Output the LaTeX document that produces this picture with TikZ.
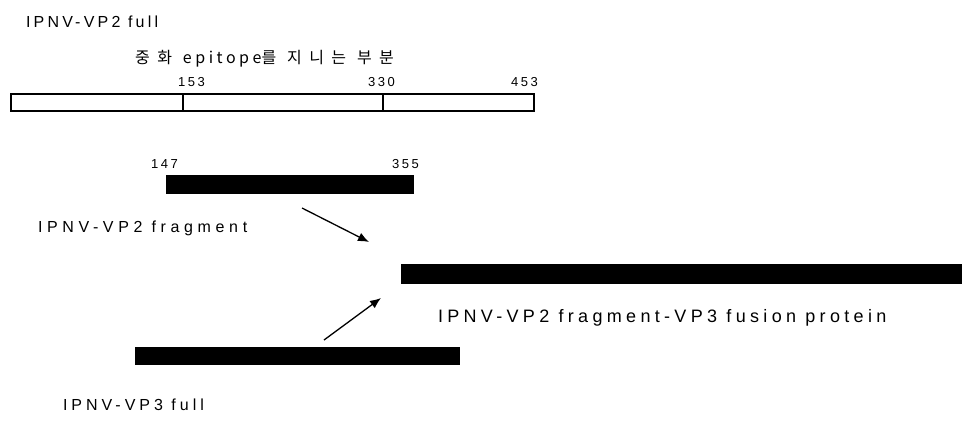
\documentclass[tikz,border=0pt]{standalone}
\usepackage{fontspec}
\setmainfont{Liberation Sans}
\newfontfamily\lblfont[LetterSpace=20]{Liberation Sans}
\newfontfamily\numfont[LetterSpace=20]{Liberation Sans}
\newfontfamily\krfont[LetterSpace=46]{Noto Sans CJK KR}
\newfontfamily\krlatin[LetterSpace=22]{Noto Sans CJK KR}
\usetikzlibrary{arrows.meta}
\tikzset{
  lbl/.style={anchor=base west, inner sep=0pt, outer sep=0pt, font=\fontsize{16}{19}\selectfont\lblfont},
  numlbl/.style={anchor=base west, inner sep=0pt, outer sep=0pt, font=\fontsize{13}{15}\selectfont\numfont},
  whiteseg/.style={draw=black, line width=1.1pt, fill=white, anchor=north west, inner sep=0pt, outer sep=0pt, minimum height=17pt},
  blackbar/.style={draw=black, fill=black, anchor=north west, inner sep=0pt, outer sep=0pt},
  joinarrow/.style={-{Latex[length=11pt,width=9pt]}, line width=1.3pt}
}
\begin{document}
\begin{tikzpicture}[x=1pt,y=-1pt]
\useasboundingbox (0,0) rectangle (962,432);
% titles
\node[lbl] (vp2full) at (26,27) {IPNV-VP2 full};
\node[anchor=base west, inner sep=0pt, font=\fontsize{16}{19}\selectfont\krfont] (epi) at (135,63) {중화 {\krlatin epitope}를 지니는 부분};
% numbers above full VP2
\node[numlbl] (n153) at (178,86) {153};
\node[numlbl] (n330) at (368,86) {330};
\node[numlbl] (n453) at (511,86) {453};
% full VP2 bar
\node[whiteseg, minimum width=172pt] (seg1) at (11,94) {};
\node[whiteseg, minimum width=200pt] (seg2) at (183,94) {};
\node[whiteseg, minimum width=151pt] (seg3) at (383,94) {};
% fragment
\node[numlbl] (n147) at (151,168) {147};
\node[numlbl] (n355) at (392,168) {355};
\node[blackbar, minimum width=247pt, minimum height=18pt] (frag) at (166,175) {};
\node[lbl] (fraglbl) at (38,232) {\addfontfeature{LetterSpace=29}IPNV-VP2 fragment};
% fusion
\node[blackbar, minimum width=562pt, minimum height=19pt] (fusion) at (401,264) {};
\node[lbl, font=\fontsize{18}{21}\selectfont\lblfont] (fuslbl) at (438,322) {\addfontfeature{LetterSpace=24}IPNV-VP2 fragment-VP3 fusion protein};
% VP3
\node[blackbar, minimum width=324pt, minimum height=17pt] (vp3) at (135,347) {};
\node[lbl] (vp3lbl) at (63,410) {\addfontfeature{LetterSpace=25}IPNV-VP3 full};
% arrows
\coordinate (a1s) at (302,208);
\coordinate (a1e) at (369,242);
\coordinate (a2s) at (324,340);
\coordinate (a2e) at (381,298);
\draw[joinarrow] (a1s) -- (a1e);
\draw[joinarrow] (a2s) -- (a2e);
\end{tikzpicture}
\end{document}
